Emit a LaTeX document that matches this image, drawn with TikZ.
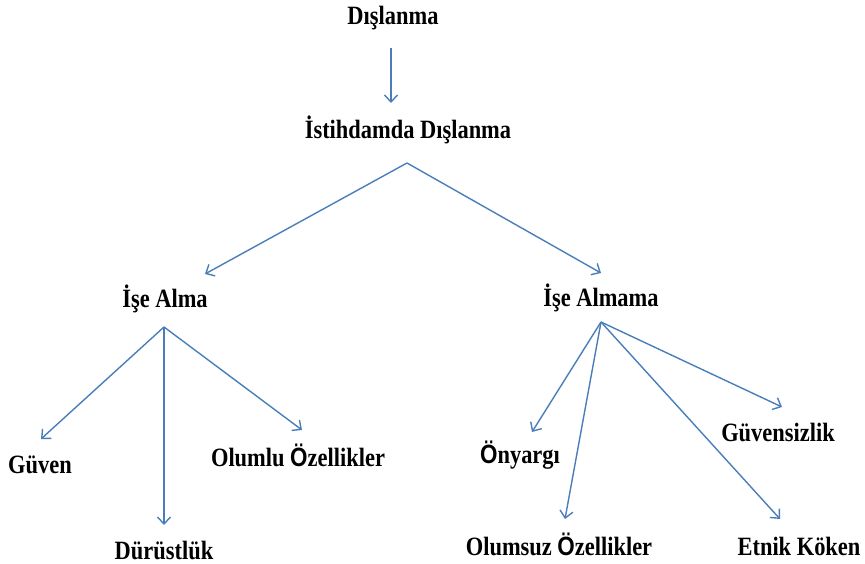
\documentclass[tikz,border=0pt]{standalone}
\usepackage{fontspec}
\setmainfont{Liberation Serif}[FakeStretch=0.85]
\newfontfamily\sansO{Liberation Sans}[FakeStretch=0.85]
\usetikzlibrary{arrows.meta}
\definecolor{conn}{RGB}{74,126,187}
\newcommand{\SO}{{\sansO\bfseries Ö}}
\begin{document}
\begin{tikzpicture}[x=1pt,y=-1pt,
  lbl/.style={anchor=base,inner sep=0pt,font=\fontsize{26.4}{30}\selectfont\bfseries},
  conn/.style={draw=conn,line width=1.4pt,-{Straight Barb[length=7pt,width=13pt,line width=1.4pt]}}]
\useasboundingbox[fill=white] (0,0) rectangle (865,564);
% nodes
\node[lbl] (d) at (393,25) {Dışlanma};
\node[lbl] (id) at (408,139) {İstihdamda Dışlanma};
\node[lbl] (ia) at (165,307) {İşe Alma};
\node[lbl] (iam) at (601,306) {İşe Almama};
\node[lbl] (gv) at (40,473) {Güven};
\node[lbl] (dr) at (164,559) {Dürüstlük};
\node[lbl] (oo) at (298,466) {Olumlu \SO zellikler};
\node[lbl] (on) at (520,463) {\SO nyargı};
\node[lbl] (gs) at (778,441) {Güvensizlik};
\node[lbl] (os) at (559,555) {Olumsuz \SO zellikler};
\node[lbl] (ek) at (799,555) {Etnik Köken};
% coordinates
\coordinate (s0) at (391,48);
\coordinate (t0) at (391,103);
\coordinate (p1) at (407,163);
\coordinate (t1a) at (205,274);
\coordinate (t1b) at (601,273);
\coordinate (p2) at (164,327);
\coordinate (t2a) at (41,439);
\coordinate (t2b) at (164,525);
\coordinate (t2c) at (302,430);
\coordinate (p3) at (601,322);
\coordinate (t3a) at (532,432);
\coordinate (t3b) at (565,519);
\coordinate (t3c) at (782,407);
\coordinate (t3d) at (780,519);
% connectors
\draw[conn] (s0) -- (t0);
\draw[conn] (p1) -- (t1a);
\draw[conn] (p1) -- (t1b);
\draw[conn] (p2) -- (t2a);
\draw[conn] (p2) -- (t2b);
\draw[conn] (p2) -- (t2c);
\draw[conn] (p3) -- (t3a);
\draw[conn] (p3) -- (t3b);
\draw[conn] (p3) -- (t3c);
\draw[conn] (p3) -- (t3d);
\end{tikzpicture}
\end{document}
